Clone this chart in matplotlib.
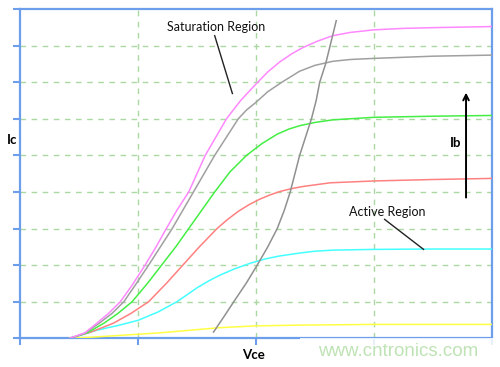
import matplotlib
matplotlib.use("Agg")
import matplotlib.pyplot as plt
from matplotlib.patches import Rectangle

# ---- data (Vce in grid units 0..4, Ic in grid units 0..9) ----
pink_x = [0.42, 0.55, 0.65, 0.75, 0.85, 0.95, 1.06, 1.15, 1.24, 1.33, 1.43, 1.50, 1.57, 1.66, 1.75,
          1.87, 2.0, 2.10, 2.20, 2.30, 2.40, 2.52, 2.65, 2.8, 3.0, 3.25, 3.5, 4.0]
pink_y = [0.0, 0.15, 0.41, 0.68, 1.0, 1.45, 2.0, 2.48, 3.0, 3.5, 4.0, 4.5, 5.0, 5.5, 6.0,
          6.5, 6.95, 7.28, 7.55, 7.77, 7.95, 8.12, 8.27, 8.36, 8.43, 8.47, 8.49, 8.52]

gray_x = [0.42, 0.55, 0.67, 0.78, 0.88, 0.98, 1.09, 1.19, 1.29, 1.38, 1.47, 1.56, 1.65, 1.75, 1.85,
          1.92, 2.0, 2.1, 2.22, 2.37, 2.5, 2.65, 2.8, 3.0, 3.5, 4.0]
gray_y = [0.0, 0.14, 0.41, 0.68, 1.0, 1.47, 2.0, 2.5, 3.0, 3.5, 4.0, 4.5, 5.0, 5.5, 6.0,
          6.24, 6.45, 6.74, 7.0, 7.3, 7.46, 7.57, 7.62, 7.65, 7.71, 7.74]

green_x = [0.42, 0.57, 0.71, 0.83, 0.95, 1.08, 1.20, 1.32, 1.43, 1.54, 1.65, 1.78, 1.92, 2.05, 2.18,
           2.28, 2.37, 2.5, 2.65, 3.0, 3.5, 4.0]
green_y = [0.0, 0.15, 0.41, 0.68, 1.0, 1.5, 2.0, 2.5, 3.0, 3.5, 4.0, 4.55, 5.0, 5.32, 5.58,
           5.72, 5.81, 5.9, 5.97, 6.04, 6.07, 6.09]

red_x = [0.42, 0.6, 0.79, 0.94, 1.09, 1.24, 1.38, 1.52, 1.67, 1.76, 1.85, 1.94, 2.03, 2.12, 2.2,
         2.3, 2.4, 2.63, 3.0, 3.5, 4.0]
red_y = [0.0, 0.17, 0.41, 0.68, 1.0, 1.5, 2.0, 2.5, 3.0, 3.25, 3.47, 3.65, 3.8, 3.92, 4.01,
         4.09, 4.15, 4.25, 4.3, 4.34, 4.37]

cyan_x = [0.42, 0.53, 0.65, 0.83, 1.0, 1.17, 1.33, 1.42, 1.50, 1.6, 1.69, 1.82, 1.95, 2.08, 2.2,
          2.37, 2.5, 2.65, 3.0, 3.5, 4.0]
cyan_y = [0.0, 0.1, 0.22, 0.35, 0.49, 0.72, 1.0, 1.2, 1.38, 1.57, 1.72, 1.9, 2.05, 2.17, 2.25,
          2.33, 2.38, 2.41, 2.43, 2.44, 2.44]

yellow_x = [0.42, 0.6, 0.90, 1.19, 1.69, 2.0, 2.37, 3.0, 4.0]
yellow_y = [0.0, 0.03, 0.09, 0.15, 0.29, 0.34, 0.36, 0.38, 0.38]

# saturation boundary line
sat_x = [1.64, 1.73, 1.82, 1.92, 2.01, 2.1, 2.18, 2.24, 2.29, 2.33, 2.37, 2.42, 2.47, 2.51, 2.54,
         2.59, 2.63, 2.68]
sat_y = [0.17, 0.6, 1.04, 1.52, 2.0, 2.5, 3.0, 3.5, 4.0, 4.5, 5.0, 5.5, 6.0, 6.5, 7.0,
         7.5, 8.02, 8.68]

x_ticks = [0, 1, 2, 3, 4]
y_ticks = [0, 1, 2, 3, 4, 5, 6, 7, 8, 9]

series = [
    (yellow_x, yellow_y, "#FFFF44"),
    (cyan_x, cyan_y, "#44FFFF"),
    (red_x, red_y, "#FF8080"),
    (green_x, green_y, "#44EE44"),
    (gray_x, gray_y, "#A0A0A0"),
    (pink_x, pink_y, "#FF88FF"),
]

blue = "#6D9EEB"
fig = plt.figure(figsize=(5.0, 3.67), dpi=100)
ax = fig.add_axes([0.04, 0.0782, 0.944, 0.8973])
ax.set_xlim(0, 4)
ax.set_ylim(0, 9)

for sp in ax.spines.values():
    sp.set_color(blue)
    sp.set_linewidth(1.6)

ax.set_xticks(x_ticks)
ax.set_yticks(y_ticks)
ax.set_xticklabels([])
ax.set_yticklabels([])
ax.tick_params(axis="both", direction="out", length=5, width=1.5, color=blue)

for v in x_ticks[1:-1]:
    ax.axvline(v, color="#ABD8A2", lw=1.0, ls=(0, (4, 4)), zorder=1)
for v in y_ticks[1:-1]:
    ax.axhline(v, color="#ABD8A2", lw=1.0, ls=(0, (4, 4)), zorder=1)

for xs, ys, c in series:
    ax.plot(xs, ys, color=c, lw=1.1, zorder=3, solid_joinstyle="round")

ax.plot(sat_x, sat_y, color="#909090", lw=1.1, zorder=3, solid_joinstyle="round")

font = "Lato"
ax.text(1.66, 8.51, "Saturation Region", fontsize=9, family=font, ha="center", va="center", color="#111111")
ax.plot([1.65, 1.80], [8.27, 6.69], color="#222222", lw=1.0, zorder=4)
ax.text(3.11, 3.44, "Active Region", fontsize=9, family=font, ha="center", va="center", color="#111111")
ax.plot([3.09, 3.42], [3.25, 2.43], color="#222222", lw=1.0, zorder=4)

ax.text(3.69, 5.34, "Ib", fontsize=9.5, family=font, weight="bold", ha="center", va="center")
ax.annotate("", xy=(3.78, 6.79), xytext=(3.78, 3.77),
            arrowprops=dict(arrowstyle="->", color="black", lw=1.4, mutation_scale=10))

ax.text(-0.068, 5.41, "Ic", fontsize=9.5, family=font, weight="bold", ha="center", va="center", clip_on=False)
ax.text(1.98, -0.45, "Vce", fontsize=9.5, family=font, weight="bold", ha="center", va="center", clip_on=False)

fig.add_artist(Rectangle((300 / 500, 0), 200 / 500, 29.5 / 367, transform=fig.transFigure,
                         facecolor="white", edgecolor="none", alpha=0.85, zorder=5))
fig.text(398 / 500, 1 - 351.5 / 367, "www.cntronics.com", fontsize=13.5, family="Liberation Sans",
         color="#BFE3B4", ha="center", va="center", zorder=6)

fig.savefig("out.png", dpi=100)
